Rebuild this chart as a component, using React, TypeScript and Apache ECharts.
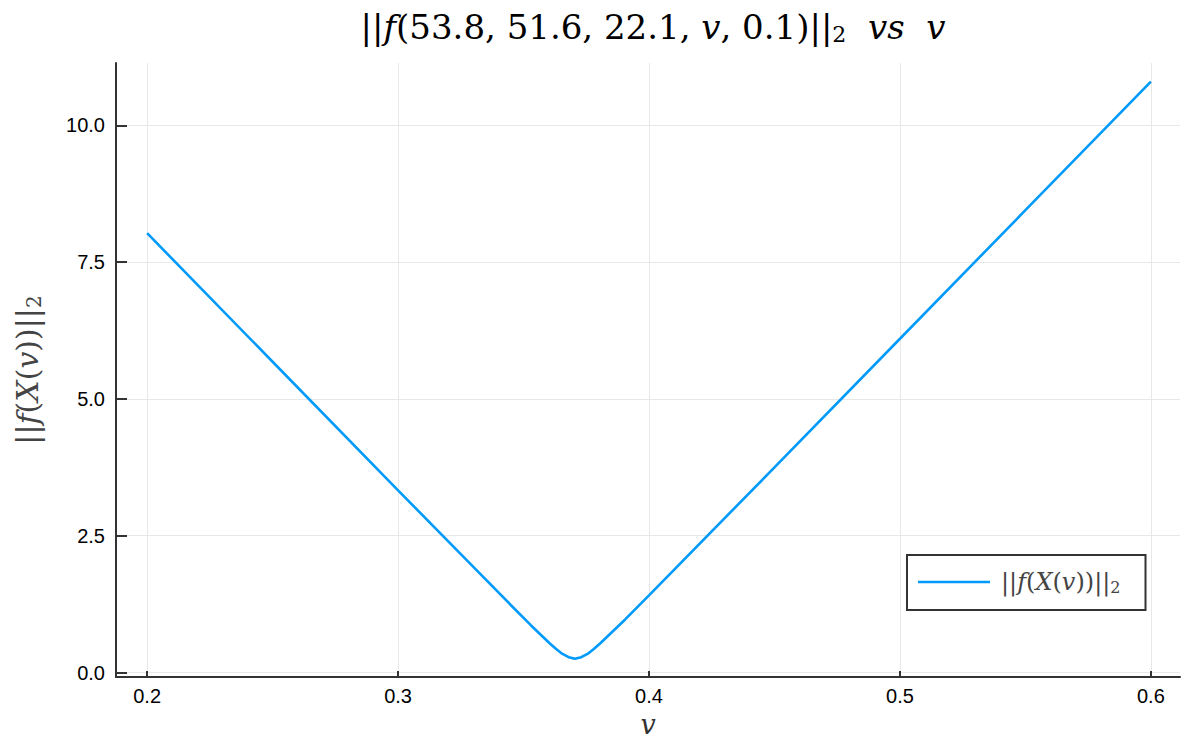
import React, { useEffect, useRef } from "react";
import * as echarts from "echarts";

const vValues = [0.2, 0.25, 0.3, 0.33, 0.345, 0.353, 0.358, 0.3605, 0.363, 0.3655, 0.368, 0.3705, 0.373, 0.3755, 0.378, 0.3805, 0.383, 0.388, 0.3905, 0.4, 0.45, 0.5, 0.55, 0.6];
const normValues = [8.03, 5.68, 3.33, 1.93, 1.23, 0.86, 0.64, 0.53, 0.43, 0.34, 0.28, 0.25, 0.28, 0.34, 0.43, 0.53, 0.64, 0.86, 0.97, 1.41, 3.75, 6.1, 8.45, 10.8];
const xTicks = [0.2, 0.3, 0.4, 0.5, 0.6];
const yTicks = [0, 2.5, 5, 7.5, 10];

const SERIF = "'DejaVu Serif', 'Liberation Serif', serif";
const SANS = "'Liberation Sans', Arial, sans-serif";

function mathRich(size: number, color: string, subPad: number) {
  return {
    n: { fontFamily: SERIF, fontSize: size, fontWeight: "normal", color },
    i: { fontFamily: SERIF, fontSize: size, fontWeight: "normal", fontStyle: "italic", color },
    s: { fontFamily: SERIF, fontSize: Math.round(size * 0.66), fontWeight: "normal", color, padding: [subPad, 0, 0, 0] },
  };
}

export default function App() {
  const ref = useRef<HTMLDivElement>(null);
  useEffect(() => {
    if (!ref.current) return;
    const chart = echarts.init(ref.current, null, { renderer: "svg" });
    const data = vValues.map((v, i) => [v, normValues[i]]);
    chart.setOption({
      animation: false,
      backgroundColor: "#ffffff",
      title: {
        text: "{n|||}{i|f}{n|(53.8, 51.6, 22.1, }{i|v}{n|, 0.1)||}{s|2}{i|  vs  v}",
        left: 648,
        textAlign: "center",
        top: 3,
        textStyle: { rich: mathRich(34, "#000", 15) },
      },
      grid: { left: 116, top: 63, right: 16, bottom: 65, containLabel: false, outerBoundsMode: "none" },
      legend: {
        left: 907,
        top: 555,
        orient: "vertical",
        borderColor: "#333",
        borderWidth: 2,
        padding: [15, 25, 15, 11],
        itemWidth: 72,
        itemHeight: 14,
        itemGap: 0,
        icon: "path://M0,6L72,6L72,8.6L0,8.6Z",
        formatter: () => "{n|||}{i|f}{n|(}{i|X}{n|(}{i|v}{n|))||}{s|2}",
        textStyle: { rich: mathRich(24, "#444", 10), padding: [0, 0, 0, 6] },
        data: ["norm"],
      },
      xAxis: {
        type: "value",
        min: 0.1876,
        max: 0.6116,
        name: "v",
        nameLocation: "middle",
        nameGap: 26,
        nameTextStyle: { fontFamily: SERIF, fontStyle: "italic", fontSize: 27, color: "#333" },
        axisLine: { show: true, onZero: false, lineStyle: { color: "#333", width: 2 } },
        axisTick: { show: true, inside: true, length: 6, customValues: xTicks, lineStyle: { color: "#333", width: 2 } },
        axisLabel: {
          customValues: xTicks,
          formatter: (v: number) => v.toFixed(1),
          fontFamily: SANS,
          fontSize: 20,
          color: "#000",
          margin: 9,
        },
        splitLine: { show: true, lineStyle: { color: "#e8e8e8", width: 1 } },
      },
      yAxis: {
        type: "value",
        min: -0.082,
        max: 11.14,
        name: "{n|||}{i|f}{n|(}{i|X}{n|(}{i|v}{n|))||}{s|2}",
        nameLocation: "middle",
        nameRotate: 90,
        nameGap: 72,
        nameTextStyle: { rich: mathRich(30, "#444", 13) },
        axisLine: { show: true, onZero: false, lineStyle: { color: "#333", width: 2 } },
        axisTick: { show: true, inside: true, length: 11, customValues: yTicks, lineStyle: { color: "#333", width: 2 } },
        axisLabel: {
          customValues: yTicks,
          formatter: (v: number) => v.toFixed(1),
          fontFamily: SANS,
          fontSize: 20,
          color: "#000",
          margin: 11,
        },
        splitLine: { show: true, lineStyle: { color: "#e8e8e8", width: 1 } },
      },
      series: [
        {
          name: "norm",
          type: "line",
          data,
          showSymbol: false,
          smooth: false,
          lineStyle: { color: "#009AFA", width: 2.6 },
          itemStyle: { color: "#009AFA" },
        },
      ],
    });
    return () => chart.dispose();
  }, []);
  return <div ref={ref} style={{ position: "fixed", left: 0, top: 0, width: 1196, height: 742 }} />;
}
